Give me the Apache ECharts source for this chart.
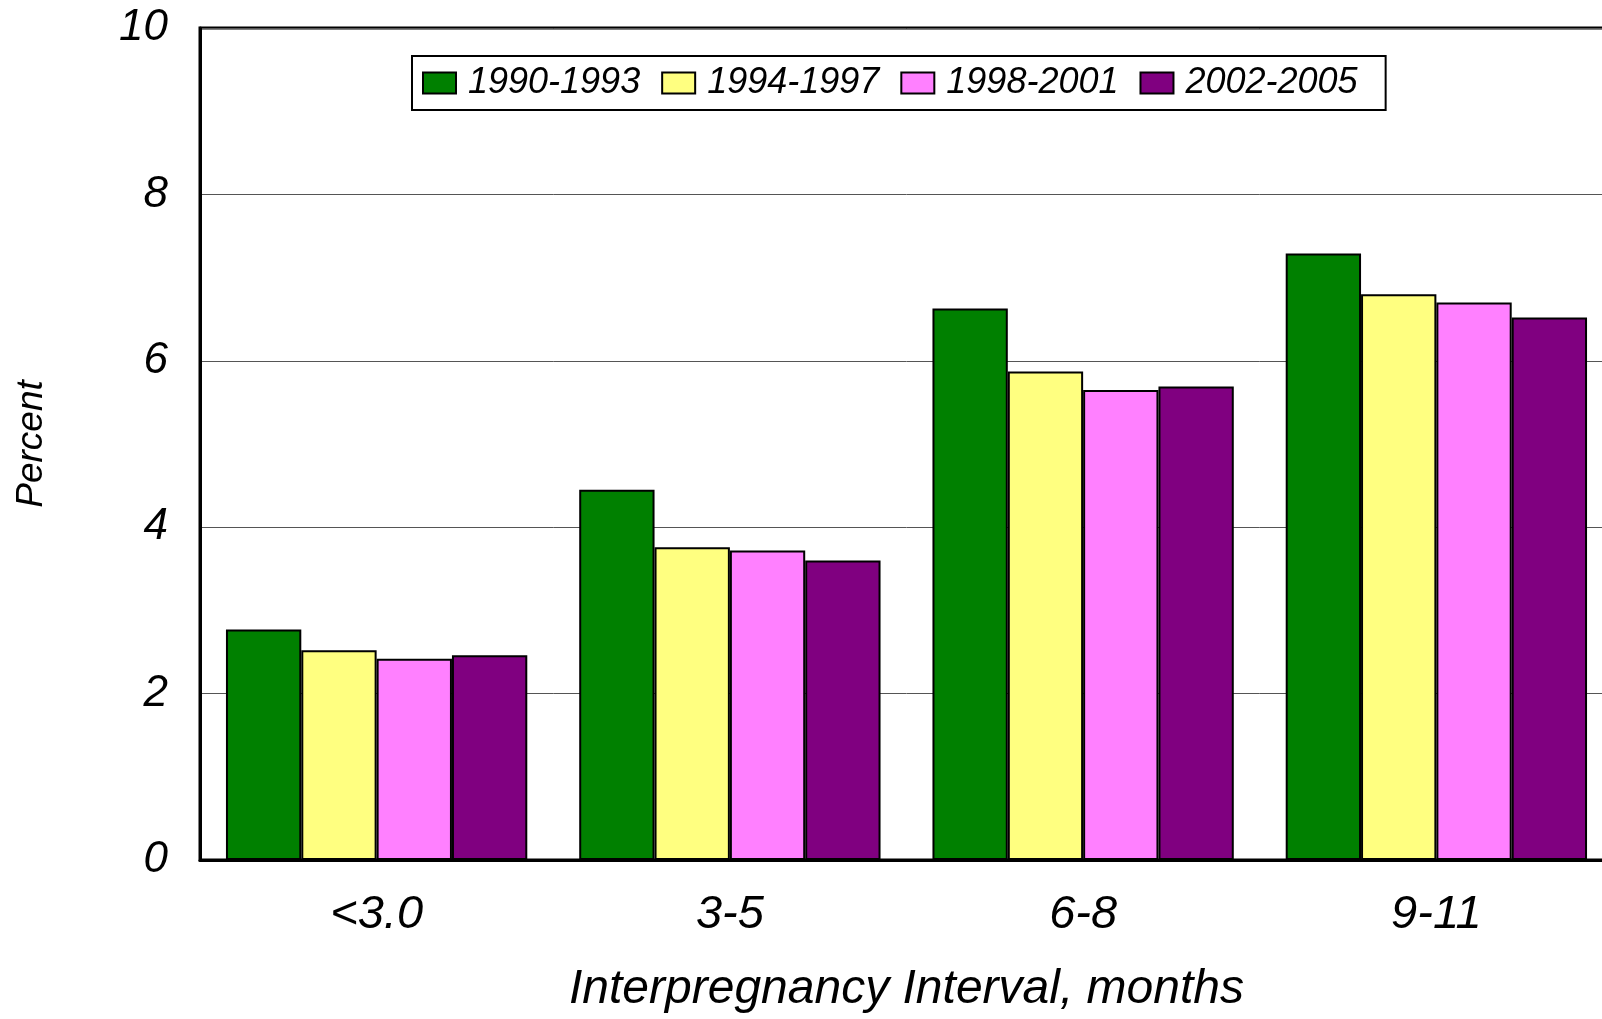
<!DOCTYPE html>
<html>
<head>
<meta charset="utf-8">
<script src="https://cdn.jsdelivr.net/npm/echarts@6/dist/echarts.min.js"></script>
<style>
html,body{margin:0;padding:0;background:#fff;overflow:hidden;width:1602px;height:1019px;}
#chart{width:1625px;height:1019px;}
</style>
</head>
<body>
<div id="chart"></div>
<script>
const categories = ['<3.0', '3-5', '6-8', '9-11'];
const seriesNames = ['1990-1993', '1994-1997', '1998-2001', '2002-2005'];
const s1990 = [2.77, 4.45, 6.63, 7.29];
const s1994 = [2.52, 3.76, 5.87, 6.80];
const s1998 = [2.42, 3.72, 5.65, 6.70];
const s2002 = [2.46, 3.60, 5.69, 6.52];
const yTicks = [0, 2, 4, 6, 8, 10];

const colors = ['#008000', '#FFFF80', '#FF80FF', '#800080'];
const seriesData = [s1990, s1994, s1998, s2002];
const FONT = 'Liberation Sans, Arial, sans-serif';

const chart = echarts.init(document.getElementById('chart'));
chart.setOption({
  animation: false,
  backgroundColor: '#fff',
  grid: {
    left: 200, top: 28, width: 1413, height: 837,
    show: true, borderColor: '#000', borderWidth: 3, backgroundColor: 'transparent'
  },
  legend: {
    left: 412, top: 56,
    padding: [9, 28, 9, 10],
    borderColor: '#000', borderWidth: 2,
    itemWidth: 33, itemHeight: 21, itemGap: 21,
    icon: 'rect',
    textStyle: { fontFamily: FONT, fontStyle: 'italic', fontSize: 36, color: '#000', padding: [0, 0, 0, 7] },
    data: seriesNames
  },
  xAxis: {
    type: 'category',
    data: categories,
    axisLine: { show: true, lineStyle: { color: '#000', width: 3 } },
    axisTick: { show: false },
    axisLabel: { fontFamily: FONT, fontStyle: 'italic', fontSize: 47, color: '#000', margin: 31 },
    name: 'Interpregnancy Interval, months',
    nameLocation: 'middle',
    nameGap: 106,
    nameTextStyle: { fontFamily: FONT, fontStyle: 'italic', fontSize: 48, color: '#000' }
  },
  yAxis: {
    type: 'value',
    min: yTicks[0], max: yTicks[yTicks.length - 1], interval: 2,
    axisLine: { show: true, lineStyle: { color: '#000', width: 3 } },
    axisTick: { show: false },
    splitLine: { show: true, lineStyle: { color: '#555', width: 1 } },
    axisLabel: { fontFamily: FONT, fontStyle: 'italic', fontSize: 44, color: '#000', margin: 32 },
    name: 'Percent',
    nameLocation: 'middle',
    nameRotate: 90,
    nameGap: 150,
    nameTextStyle: { fontFamily: FONT, fontStyle: 'italic', fontSize: 37, color: '#000' }
  },
  series: seriesNames.map((n, i) => ({
    name: n,
    type: 'bar',
    data: seriesData[i],
    barGap: '0%',
    barCategoryGap: '14.7%',
    itemStyle: { color: colors[i], borderColor: '#000', borderWidth: 2 }
  }))
});
</script>
</body>
</html>
